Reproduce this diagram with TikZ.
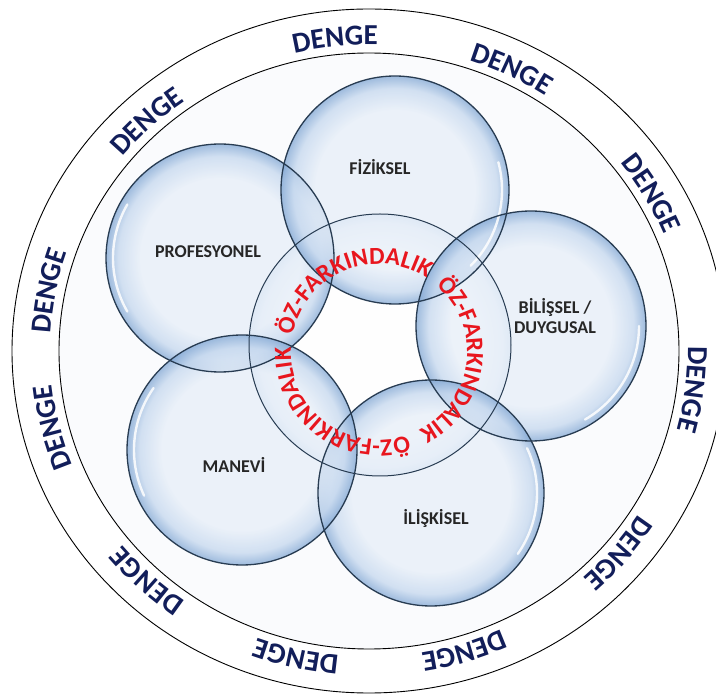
\documentclass[tikz,border=0pt]{standalone}
\usepackage{fontspec}
\setmainfont{Carlito}
\usetikzlibrary{decorations.text}

\definecolor{dengeblue}{RGB}{18,30,90}
\definecolor{ozred}{RGB}{232,22,30}
\definecolor{bubline}{RGB}{40,60,82}
\definecolor{bubin}{RGB}{230,238,248}
\definecolor{bubmid}{RGB}{196,215,238}
\definecolor{bubrim}{RGB}{128,166,211}
\definecolor{inback}{RGB}{250,251,253}

% edge of a circle sits at 25bp of the shading
\pgfdeclareradialshading{bubble}{\pgfpoint{0bp}{0bp}}{color(0bp)=(bubin); color(17.5bp)=(bubin); color(22.3bp)=(bubmid); color(25bp)=(bubrim); color(50bp)=(bubrim)}
\pgfdeclareradialshading{core}{\pgfpoint{0bp}{0bp}}{color(0bp)=(white); color(19bp)=(white); color(23.3bp)=(bubin); color(25bp)=(bubmid); color(50bp)=(bubmid)}

\newcommand\dengefont{\bfseries\fontsize{29}{30}\selectfont\color{dengeblue}}
\newcommand\ozfont{\bfseries\fontsize{24.5}{26}\selectfont\color{ozred}}

\tikzset{
  bubble/.style={circle, shading=bubble, fill opacity=0.75, inner sep=0pt, minimum size=#1},
  bubrim/.style={draw=bubline, line width=1.3pt},
  bublabel/.style={font=\bfseries\fontsize{18}{20}\selectfont, text=black!85, align=center},
}

\begin{document}
\begin{tikzpicture}[x=1pt,y=1pt]
  \useasboundingbox (0,0) rectangle (716,697);
  \clip (0,0) rectangle (716,697);

  % ring
  \begin{scope}[shift={(369,346)}]
    \draw[line width=0.9pt] (0,0) ellipse [x radius=357pt, y radius=342pt];
    \draw[line width=0.9pt, fill=inback] (0,0) ellipse [x radius=310pt, y radius=298pt];
    \foreach \a in {96,64,30,-7,-40,-73,-103,-133,-166,169,133} {
      \path[decorate, decoration={text along path, text align=center, text={|\dengefont|DENGE}}]
        (\a+20:319pt and 306pt) arc [start angle=\a+20, end angle=\a-20, x radius=319pt, y radius=306pt];
    }
  \end{scope}

  % core
  \node[circle, shading=core, fill opacity=0.8, minimum size=262pt, inner sep=0pt] (core) at (380,352) {};

  % bubbles
  \foreach \n/\x/\y/\r in {pro/220/439/114, fiz/395/507/114, bil/531/371/115, ili/431/204/113, man/242/247/115} {
    \node[bubble=2*\r pt] (\n) at (\x,\y) {};
  }
  \foreach \n/\r/\h in {pro/114/150, fiz/114/-45, bil/115/-60, ili/113/-35, man/115/145} {
    \draw[white, line width=2.4pt, opacity=0.85, line cap=round] (\n) ++(\h:\r pt-7pt) arc [start angle=\h, end angle=\h+60, radius=\r pt-7pt];
    \draw[bubrim] (\n) circle [radius=\r pt];
  }
  \draw[bubline, line width=1pt] (core) circle [radius=131pt];

  % core text
  \begin{scope}[shift={(379,345)}]
    \foreach \a in {113,-7,-127} {
      \path[decorate, decoration={text along path, text align=center, text={|\ozfont|ÖZ-FARKINDALIK}}]
        (\a+60:88pt) arc [start angle=\a+60, end angle=\a-60, radius=88pt];
    }
  \end{scope}

  % labels
  \node[bublabel] (lpro) at (208,445) {PROFESYONEL};
  \node[bublabel] (lfiz) at (380,530) {FİZİKSEL};
  \node[bublabel] (lbil) at (555,381) {BİLİŞSEL /\\DUYGUSAL};
  \node[bublabel] (lman) at (234,232) {MANEVİ};
  \node[bublabel] (lili) at (436,179) {İLİŞKİSEL};
\end{tikzpicture}
\end{document}
